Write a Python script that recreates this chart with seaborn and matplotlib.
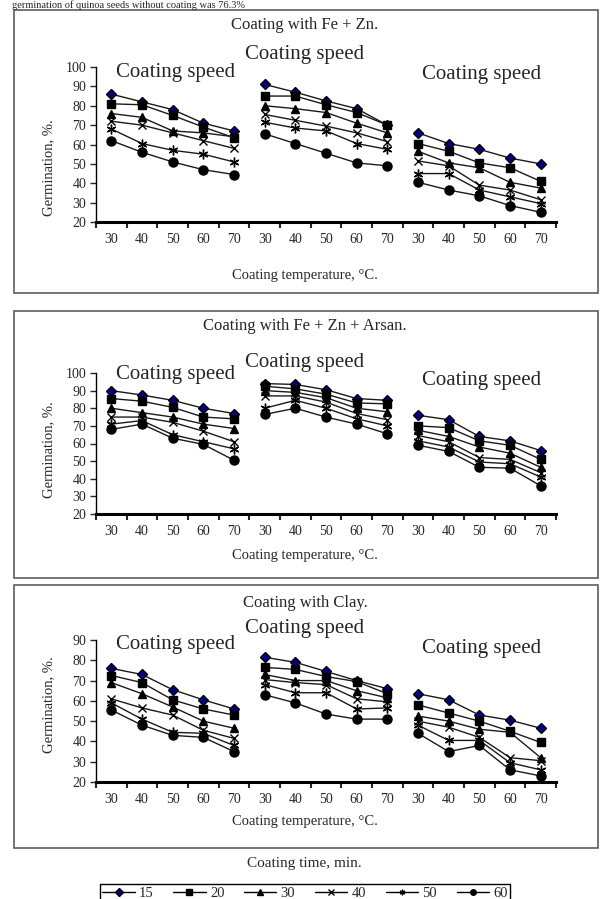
import pandas as pd
import matplotlib.pyplot as plt
from matplotlib.patches import Rectangle
from matplotlib.lines import Line2D
import seaborn as sns

sns.set_theme(style="ticks")
plt.rcParams["font.family"] = ["Liberation Serif", "DejaVu Serif"]

# Dados: 3 velocidades x 5 temperaturas = 15 pontos por serie
temps = [30, 40, 50, 60, 70]
times = ["15", "20", "30", "40", "50", "60"]

fezn_15 = [86, 82, 78, 71, 67, 91, 87, 82.5, 78.5, 70, 66, 60.5, 57.5, 53, 50]
fezn_20 = [81, 80.5, 75, 69, 63.5, 85, 85, 80.5, 76.5, 70, 60.5, 56.5, 50.5, 48, 41]
fezn_30 = [76, 74, 67, 66, 64, 80, 78.5, 76.5, 71, 66, 56.5, 50.5, 48, 40.5, 37.5]
fezn_40 = [72, 70, 66, 62, 58, 75.5, 72.5, 69.5, 66, 61.5, 51.5, 49, 39, 36.5, 31.5]
fezn_50 = [68, 60.5, 57, 55, 51, 71.5, 68.5, 67, 60.5, 57.5, 45, 45, 36.5, 33, 29.5]
fezn_60 = [62, 56, 51, 47, 44.5, 65.5, 60.5, 55.5, 50.5, 49, 40.5, 36.5, 33.5, 28.5, 25]

arsan_15 = [90, 87.5, 84.5, 80, 77, 94, 93.5, 90.5, 85.5, 84.5, 76, 73.5, 64, 61.5, 56]
arsan_20 = [85.5, 84, 80.5, 75, 74, 92.5, 91, 88, 83, 82.5, 70, 69, 61.5, 59, 51]
arsan_30 = [80, 77.5, 75, 71, 68.5, 90, 89, 86, 80, 78, 67.5, 64, 58, 54.5, 46.5]
arsan_40 = [75, 75, 72, 67, 61, 87, 87, 83.5, 77, 73.5, 64.5, 61, 52, 51, 43.5]
arsan_50 = [71, 73, 65, 61, 57, 80, 84.5, 80, 74, 70, 61.5, 58, 49.5, 48.5, 41]
arsan_60 = [68, 71, 63, 59.5, 50.5, 76.5, 80, 75, 71, 65.5, 59, 55.5, 46.5, 46, 36]

clay_15 = [76, 73, 65.5, 60.5, 56, 81.5, 79, 74.5, 70, 66, 63.5, 60.5, 53, 50.5, 46.5]
clay_20 = [72.5, 69, 60.5, 56, 53, 76.5, 75.5, 72, 69.5, 63.5, 58, 54, 50, 45, 39.5]
clay_30 = [69, 63.5, 57, 50, 46.5, 73, 70, 70, 65, 61.5, 52.5, 50, 46, 44.5, 32]
clay_40 = [61, 56.5, 53, 45.5, 41.5, 70.5, 69, 68, 61, 59.5, 50, 47, 42, 32, 30.5]
clay_50 = [59, 51, 44.5, 44, 38, 68, 64, 64, 56, 56.5, 48, 40.5, 40.5, 29.5, 26]
clay_60 = [55.5, 48, 43, 42, 35, 63, 59, 53.5, 51, 51, 44, 35, 38, 26, 23]

titles = ["Coating with Fe + Zn.", "Coating with Fe + Zn + Arsan.", "Coating with Clay."]
series = [
    [fezn_15, fezn_20, fezn_30, fezn_40, fezn_50, fezn_60],
    [arsan_15, arsan_20, arsan_30, arsan_40, arsan_50, arsan_60],
    [clay_15, clay_20, clay_30, clay_40, clay_50, clay_60],
]
ytops = [100, 100, 90]

# estilos dos marcadores (15, 20, 30, 40, 50, 60)
markers = ["D", "s", "^", "x", (6, 2, 0), "o"]
msizes = [5, 6, 6, 6, 7, 6.5]
faces = ["#000080", "black", "black", "black", "black", "black"]

W, H = 600, 899


def fx(x):
    return x / W


def fy(y):
    return 1 - y / H


fig = plt.figure(figsize=(6, 8.99), dpi=100)

# posicoes em pixels
boxes = [(10, 293), (311, 578), (585, 848)]
plot_px = [(67, 222), (373, 514), (640, 782)]
title_y = [25, 326, 603]
speed_y = [(72, 55, 75), (375, 362, 380), (645, 628, 648)]
xlabel_y = [275, 556, 822]
ylabel_y = [168, 450, 705]

for p in range(3):
    b0, b1 = boxes[p]
    fig.patches.append(Rectangle((fx(14), fy(b1)), fx(598) - fx(14), fy(b0) - fy(b1),
                                 transform=fig.transFigure, fill=False,
                                 edgecolor="#505050", lw=1.1))
    t0, t1 = plot_px[p]
    ax = fig.add_axes([fx(96), fy(t1), fx(556) - fx(96), fy(t0) - fy(t1)])

    rows = []
    for k, vals in enumerate(series[p]):
        for j, v in enumerate(vals):
            rows.append({"time": times[k], "pos": j, "grp": j // 5, "val": v})
    df = pd.DataFrame(rows)

    for k, t in enumerate(times):
        sub = df[df["time"] == t]
        sns.lineplot(data=sub, x="pos", y="val", units="grp", estimator=None,
                     color="#1a1a1a", lw=1, marker=markers[k], markersize=msizes[k],
                     markerfacecolor=faces[k], markeredgecolor="black",
                     markeredgewidth=1, ax=ax, legend=False)

    ax.set_xlim(-0.5, 14.5)
    ax.set_ylim(20, ytops[p])
    ax.set_yticks(range(20, ytops[p] + 1, 10))
    ax.set_xticks([i - 0.5 for i in range(16)])
    ax.set_xticklabels([])
    ax.set_xticks(range(15), minor=True)
    ax.set_xticklabels([str(temps[i % 5]) for i in range(15)], minor=True)
    ax.tick_params(axis="x", which="major", length=4, width=1.5, direction="out")
    ax.tick_params(axis="x", which="minor", length=0, pad=8, labelsize=10)
    ax.tick_params(axis="y", length=4, width=1, labelsize=10, pad=3)
    ax.set_xlabel("")
    ax.set_ylabel("")
    sns.despine(ax=ax)
    ax.spines["bottom"].set_linewidth(2.2)
    ax.spines["left"].set_linewidth(1)
    ax.spines["bottom"].set_color("black")
    ax.spines["left"].set_color("black")
    ax.patch.set_alpha(0)

    fig.text(fx(305), fy(title_y[p]), titles[p], ha="center", va="center", fontsize=12)
    for sx, sy in zip((176, 305, 482), speed_y[p]):
        fig.text(fx(sx), fy(sy), "Coating speed", ha="center", va="center", fontsize=15)
    fig.text(fx(305), fy(xlabel_y[p]), "Coating temperature, °C.", ha="center",
             va="center", fontsize=10.5)
    fig.text(fx(49), fy(ylabel_y[p]), "Germination, %.", ha="center", va="center",
             rotation=90, fontsize=10.5)

# texto do topo da pagina (no original aparece cortado)
fig.text(fx(12), fy(0), "germination of quinoa seeds without coating was 76.3%",
         ha="left", va="top", fontsize=7.5)

# legenda
fig.text(fx(304), fy(863), "Coating time, min.", ha="center", va="center", fontsize=11)
handles = [Line2D([0], [0], color="black", lw=1, marker=markers[k], markersize=4,
                  markerfacecolor=faces[k], markeredgecolor="black")
           for k in range(6)]
leg = fig.legend(handles, times, loc="upper left", ncol=6, mode="expand",
                 bbox_to_anchor=(fx(93), fy(899), fx(517) - fx(93), fy(877) - fy(899)),
                 fontsize=10.5, frameon=True, fancybox=False, edgecolor="black",
                 handlelength=2.2, handletextpad=0.3, borderpad=0.15, framealpha=1)
leg.get_frame().set_linewidth(1)

plt.savefig("out.png", dpi=100)
plt.close()
